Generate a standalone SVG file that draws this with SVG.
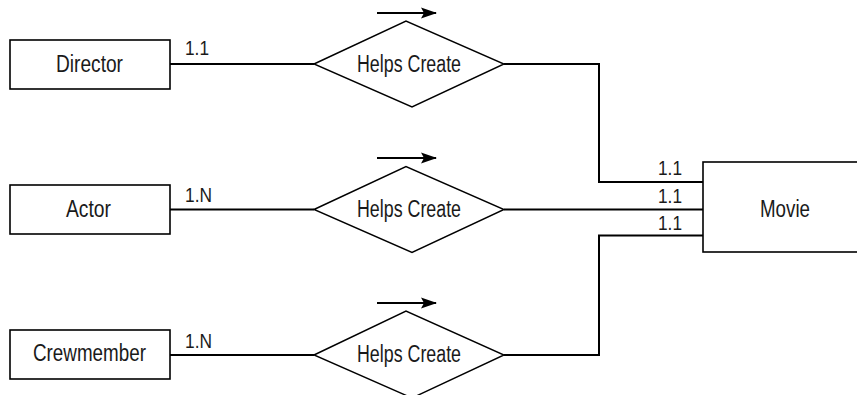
<svg xmlns="http://www.w3.org/2000/svg" width="857" height="395" viewBox="0 0 857 395">
<defs>
<style>
.box{fill:#fff;stroke:#000;stroke-width:1.6}
.dia{fill:#fff;stroke:#000;stroke-width:1.4}
.conn{fill:none;stroke:#000;stroke-width:2}
.t{font-family:"Liberation Sans",Arial,sans-serif;font-size:23px;fill:#1a1a1a}
.c{font-family:"Liberation Sans",Arial,sans-serif;font-size:21px;fill:#1a1a1a}
.arr{fill:none;stroke:#000;stroke-width:2.2}
</style>
<marker id="ah" markerWidth="16" markerHeight="12" refX="15" refY="6" orient="auto" markerUnits="userSpaceOnUse" viewBox="0 0 16 12">
<path d="M0,0.5 L16,6 L0,11.5 L3,6 Z" fill="#000"/>
</marker>
</defs>
<rect width="857" height="395" fill="#fff"/>
<g id="connectors">
<polyline class="conn" points="170,64 314,64"/>
<polyline class="conn" points="504,64 599,64 599,182 703,182"/>
<polyline class="conn" points="170,209.5 314,209.5"/>
<polyline class="conn" points="504,209.5 703,209.5"/>
<polyline class="conn" points="170,355 314,355"/>
<polyline class="conn" points="504,355 599,355 599,235.5 703,235.5"/>
<text class="c" x="185" y="55" textLength="24" lengthAdjust="spacingAndGlyphs">1.1</text>
<text class="c" x="185" y="202" textLength="27" lengthAdjust="spacingAndGlyphs">1.N</text>
<text class="c" x="185" y="348" textLength="27" lengthAdjust="spacingAndGlyphs">1.N</text>
<text class="c" x="658" y="175" textLength="24" lengthAdjust="spacingAndGlyphs">1.1</text>
<text class="c" x="658" y="203" textLength="24" lengthAdjust="spacingAndGlyphs">1.1</text>
<text class="c" x="658" y="230" textLength="24" lengthAdjust="spacingAndGlyphs">1.1</text>
</g>
<g id="director">
<rect class="box" x="10" y="40" width="160" height="49"/>
<text class="t" x="56" y="72" textLength="67" lengthAdjust="spacingAndGlyphs">Director</text>
</g>
<g id="actor">
<rect class="box" x="10" y="185" width="160" height="49"/>
<text class="t" x="66" y="217" textLength="45" lengthAdjust="spacingAndGlyphs">Actor</text>
</g>
<g id="crewmember">
<rect class="box" x="10" y="330" width="160" height="49"/>
<text class="t" x="33" y="361" textLength="113" lengthAdjust="spacingAndGlyphs">Crewmember</text>
</g>
<g id="movie">
<rect class="box" x="703" y="162" width="160" height="90"/>
<text class="t" x="760" y="217" textLength="50" lengthAdjust="spacingAndGlyphs">Movie</text>
</g>
<g id="rel-director">
<polygon class="dia" points="314,64 406,21 504,64 412,107"/>
<text class="t" x="357" y="72" textLength="104" lengthAdjust="spacingAndGlyphs">Helps Create</text>
<line class="arr" x1="377" y1="13" x2="436" y2="13" marker-end="url(#ah)"/>
</g>
<g id="rel-actor">
<polygon class="dia" points="314,209.5 406,166.5 504,209.5 412,252.5"/>
<text class="t" x="357" y="217" textLength="104" lengthAdjust="spacingAndGlyphs">Helps Create</text>
<line class="arr" x1="377" y1="158" x2="436" y2="158" marker-end="url(#ah)"/>
</g>
<g id="rel-crewmember">
<polygon class="dia" points="314,355 406,311 504,355 412,398"/>
<text class="t" x="357" y="362" textLength="104" lengthAdjust="spacingAndGlyphs">Helps Create</text>
<line class="arr" x1="377" y1="303" x2="436" y2="303" marker-end="url(#ah)"/>
</g>
</svg>
